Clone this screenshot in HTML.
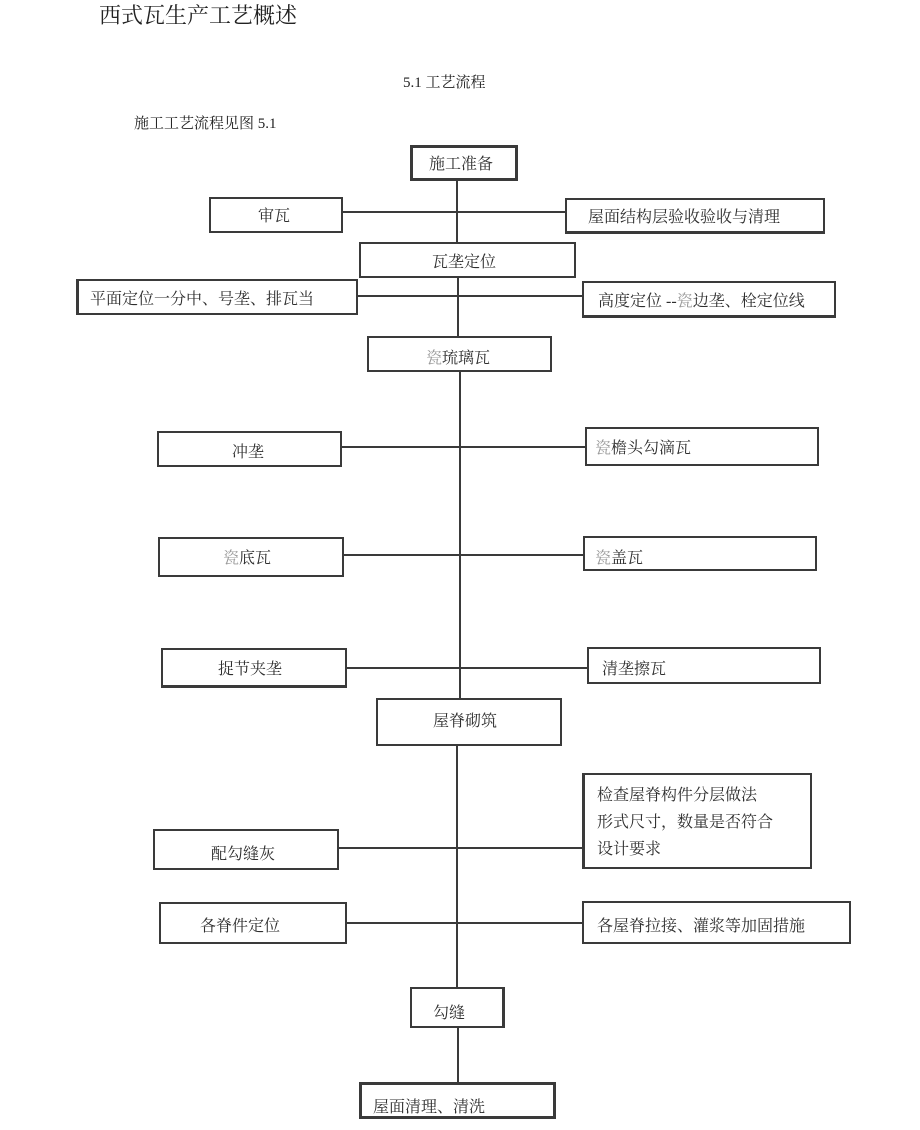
<!DOCTYPE html>
<html>
<head>
<meta charset="utf-8">
<style>
html,body{margin:0;padding:0;background:#fff;}
body{width:920px;height:1130px;position:relative;overflow:hidden;font-family:"Liberation Serif","Noto Serif CJK SC",serif;color:#2a2a2a;}
.b{position:absolute;box-sizing:border-box;border:2px solid #3a3a3a;background:transparent;}
.t{position:absolute;font-size:16px;line-height:16px;white-space:nowrap;color:#2e2e2e;transform:translateY(2px);}
.h{position:absolute;height:2px;background:#3a3a3a;}
.v{position:absolute;width:2px;background:#3a3a3a;}
.g{color:#9a9a9a;}
</style>
</head>
<body>
<div style="position:absolute;left:99px;top:5px;font-size:22px;line-height:22px;white-space:nowrap;color:#222;">西式瓦生产工艺概述</div>
<div style="position:absolute;left:403px;top:76px;font-size:15px;line-height:15px;white-space:nowrap;color:#222;">5.1 工艺流程</div>
<div style="position:absolute;left:134px;top:117px;font-size:15px;line-height:15px;white-space:nowrap;color:#222;">施工工艺流程见图 5.1</div>

<!-- connectors -->
<div class="v" style="left:456px;top:181px;height:62px;"></div>
<div class="v" style="left:457px;top:278px;height:58px;"></div>
<div class="v" style="left:459px;top:372px;height:326px;"></div>
<div class="v" style="left:456px;top:746px;height:241px;"></div>
<div class="v" style="left:457px;top:1028px;height:54px;"></div>

<div class="h" style="left:343px;top:211px;width:222px;"></div>
<div class="h" style="left:358px;top:295px;width:224px;"></div>
<div class="h" style="left:342px;top:446px;width:243px;"></div>
<div class="h" style="left:344px;top:554px;width:239px;"></div>
<div class="h" style="left:347px;top:667px;width:240px;"></div>
<div class="h" style="left:339px;top:847px;width:243px;"></div>
<div class="h" style="left:347px;top:922px;width:235px;"></div>

<!-- boxes -->
<div class="b" style="left:410px;top:145px;width:108px;height:36px;border-width:3px;"></div>
<div class="t" style="left:429px;top:155px;">施工准备</div>

<div class="b" style="left:209px;top:197px;width:134px;height:36px;"></div>
<div class="t" style="left:258px;top:207px;">审瓦</div>

<div class="b" style="left:565px;top:198px;width:260px;height:36px;border-bottom-width:3px;"></div>
<div class="t" style="left:588px;top:208px;">屋面结构层验收验收与清理</div>

<div class="b" style="left:359px;top:242px;width:217px;height:36px;"></div>
<div class="t" style="left:432px;top:253px;">瓦垄定位</div>

<div class="b" style="left:76px;top:279px;width:282px;height:36px;border-left-width:3px;"></div>
<div class="t" style="left:90px;top:290px;">平面定位一分中、号垄、排瓦当</div>

<div class="b" style="left:582px;top:281px;width:254px;height:37px;border-bottom-width:3px;"></div>
<div class="t" style="left:598px;top:292px;">高度定位 --<span class="g">瓷</span>边垄、栓定位线</div>

<div class="b" style="left:367px;top:336px;width:185px;height:36px;"></div>
<div class="t" style="left:426px;top:349px;"><span class="g">瓷</span>琉璃瓦</div>

<div class="b" style="left:157px;top:431px;width:185px;height:36px;"></div>
<div class="t" style="left:232px;top:443px;">冲垄</div>

<div class="b" style="left:585px;top:427px;width:234px;height:39px;"></div>
<div class="t" style="left:595px;top:439px;"><span class="g">瓷</span>檐头勾滴瓦</div>

<div class="b" style="left:158px;top:537px;width:186px;height:40px;"></div>
<div class="t" style="left:223px;top:549px;"><span class="g">瓷</span>底瓦</div>

<div class="b" style="left:583px;top:536px;width:234px;height:35px;"></div>
<div class="t" style="left:595px;top:549px;"><span class="g">瓷</span>盖瓦</div>

<div class="b" style="left:161px;top:648px;width:186px;height:40px;border-bottom-width:3px;"></div>
<div class="t" style="left:218px;top:660px;">捉节夹垄</div>

<div class="b" style="left:587px;top:647px;width:234px;height:37px;"></div>
<div class="t" style="left:602px;top:660px;">清垄擦瓦</div>

<div class="b" style="left:376px;top:698px;width:186px;height:48px;"></div>
<div class="t" style="left:433px;top:712px;">屋脊砌筑</div>

<div class="b" style="left:582px;top:773px;width:230px;height:96px;border-left-width:3px;"></div>
<div class="t" style="left:597px;top:786px;">检查屋脊构件分层做法</div>
<div class="t" style="left:597px;top:813px;">形式尺寸，数量是否符合</div>
<div class="t" style="left:597px;top:840px;">设计要求</div>

<div class="b" style="left:153px;top:829px;width:186px;height:41px;"></div>
<div class="t" style="left:211px;top:845px;">配勾缝灰</div>

<div class="b" style="left:159px;top:902px;width:188px;height:42px;"></div>
<div class="t" style="left:200px;top:917px;">各脊件定位</div>

<div class="b" style="left:582px;top:901px;width:269px;height:43px;"></div>
<div class="t" style="left:597px;top:917px;">各屋脊拉接、灌浆等加固措施</div>

<div class="b" style="left:410px;top:987px;width:95px;height:41px;border-right-width:3px;"></div>
<div class="t" style="left:433px;top:1004px;">勾缝</div>

<div class="b" style="left:359px;top:1082px;width:197px;height:37px;border-width:3px;"></div>
<div class="t" style="left:373px;top:1098px;">屋面清理、清洗</div>
</body>
</html>
